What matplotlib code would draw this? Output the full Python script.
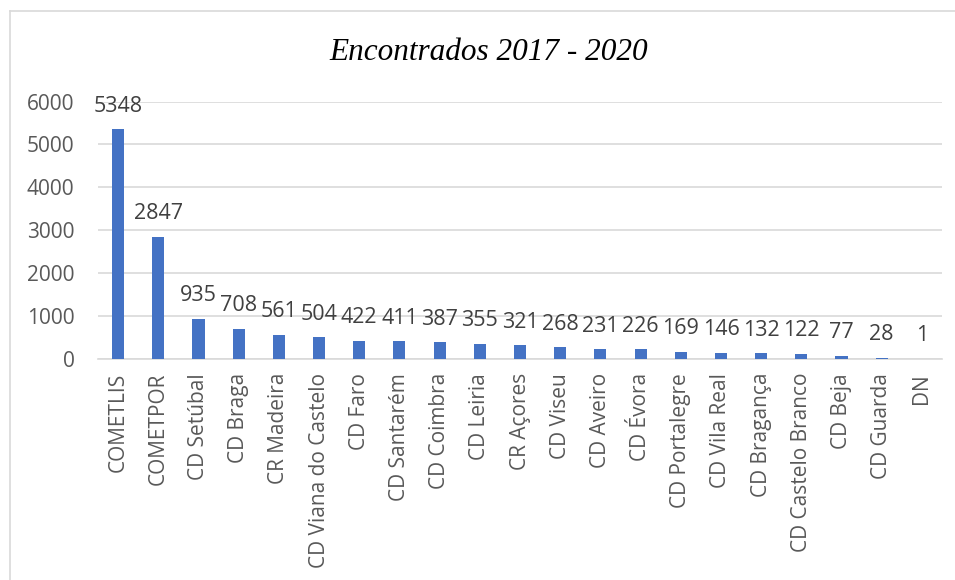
import matplotlib
matplotlib.use("Agg")
import matplotlib.pyplot as plt
from matplotlib.lines import Line2D

categories = ["COMETLIS", "COMETPOR", "CD Setúbal", "CD Braga", "CR Madeira",
              "CD Viana do Castelo", "CD Faro", "CD Santarém", "CD Coimbra",
              "CD Leiria", "CR Açores", "CD Viseu", "CD Aveiro", "CD Évora",
              "CD Portalegre", "CD Vila Real", "CD Bragança", "CD Castelo Branco",
              "CD Beja", "CD Guarda", "DN"]
values = [5348, 2847, 935, 708, 561, 504, 422, 411, 387, 355, 321, 268, 231,
          226, 169, 146, 132, 122, 77, 28, 1]
yticks = [0, 1000, 2000, 3000, 4000, 5000, 6000]
title = "Encontrados 2017 - 2020"

plt.rcParams['font.family'] = ['Open Sans', 'DejaVu Sans']

fig = plt.figure(figsize=(9.55, 5.8), dpi=100)
ax = fig.add_axes([98/955, 1-359/580, (942-98)/955, (359-101.5)/580])

x = list(range(len(categories)))
ax.bar(x, values, width=0.3, color="#4472C4", zorder=3)
for xi, v in zip(x, values):
    ax.annotate(str(v), (xi, v), xytext=(0, 9), textcoords="offset points",
                ha="center", va="bottom", fontsize=15.5, color="#404040")

ax.set_xlim(-0.5, len(categories) - 0.5)
ax.set_ylim(0, 6000)
ax.set_yticks(yticks)
ax.set_yticklabels([str(t) for t in yticks])
ax.set_xticks(x)
ax.set_xticklabels(categories, rotation=90, ha="center", va="top")
ax.tick_params(axis="both", length=0, labelsize=15, labelcolor="#595959")
ax.tick_params(axis="y", pad=17)
ax.tick_params(axis="x", pad=10)
ax.grid(axis="y", color="#d9d9d9", linewidth=1.2, zorder=0)
for s in ["top", "right", "left"]:
    ax.spines[s].set_visible(False)
ax.spines["bottom"].set_color("#d9d9d9")
ax.spines["bottom"].set_linewidth(1.2)

fig.text(489/955, 1-60/580, title, ha="center", va="baseline",
         fontsize=22.5, style="italic", family="Liberation Serif", color="black")

# chart border (left and top visible)
fig.add_artist(Line2D([10/955, 10/955], [0, 1-11/580], color="#d9d9d9", lw=1.2, transform=fig.transFigure))
fig.add_artist(Line2D([10/955, 1], [1-11/580, 1-11/580], color="#d9d9d9", lw=1.2, transform=fig.transFigure))

fig.savefig("out.png", dpi=100)
